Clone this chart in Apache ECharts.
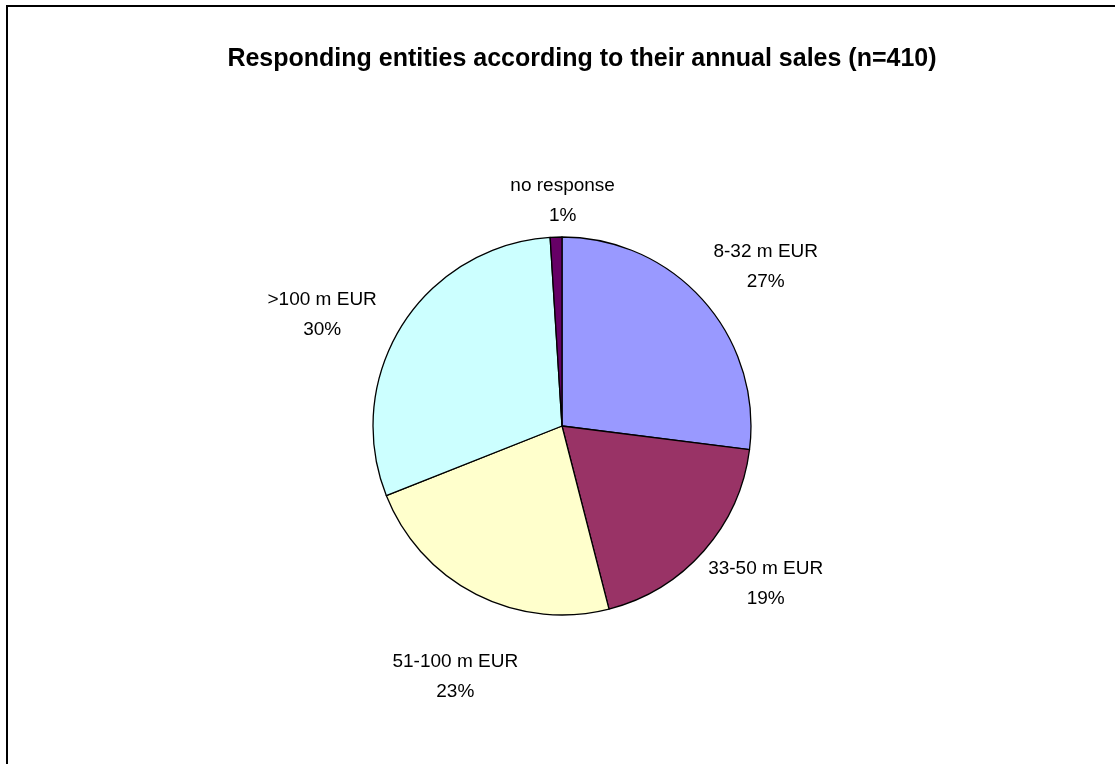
<!DOCTYPE html>
<html>
<head>
<meta charset="utf-8">
<script src="https://cdn.jsdelivr.net/npm/echarts@6/dist/echarts.min.js"></script>
<style>
  html, body { margin: 0; padding: 0; background: #fff; }
  #chart { width: 1115px; height: 764px; }
</style>
</head>
<body>
<div id="chart"></div>
<script>
// Sales bands and their share of responding entities (percent)
const categories = ['8-32 m EUR', '33-50 m EUR', '51-100 m EUR', '>100 m EUR', 'no response'];
const shares = [27, 19, 23, 30, 1];
const sliceColors = ['#9999FF', '#993366', '#FFFFCC', '#CCFFFF', '#660066'];

const titleText = 'Responding entities according to their annual sales (n=410)';

const pieCenter = [562, 426];
const pieRadius = 189;
const labelGap = 25;
// small hand adjustments of the label boxes, in pixels
const labelNudge = [[4, 0], [0, -1], [19, 37], [-13, 17], [9, 15]];

const total = shares.reduce((a, b) => a + b, 0);
// mid-angle of each slice, measured clockwise from 12 o'clock
const midAngles = [];
let acc = 0;
shares.forEach(v => {
  midAngles.push((acc + v / 2) / total * 2 * Math.PI);
  acc += v;
});

const chart = echarts.init(document.getElementById('chart'), null, { renderer: 'canvas' });

chart.setOption({
  animation: false,
  backgroundColor: '#ffffff',
  title: {
    text: titleText,
    left: 577,
    textAlign: 'center',
    top: 42,
    textStyle: {
      fontFamily: 'Liberation Sans, Arial, sans-serif',
      fontWeight: 'bold',
      fontSize: 25,
      color: '#000'
    }
  },
  graphic: [{
    type: 'rect',
    shape: { x: 7, y: 6, width: 1300, height: 1000 },
    style: { fill: 'none', stroke: '#000', lineWidth: 2 },
    silent: true
  }],
  series: [{
    type: 'pie',
    center: pieCenter,
    radius: pieRadius,
    startAngle: 90,
    clockwise: true,
    silent: true,
    itemStyle: { borderColor: '#000', borderWidth: 1.3 },
    label: {
      show: true,
      position: 'outside',
      formatter: '{b}\n{c}%',
      fontFamily: 'Liberation Sans, Arial, sans-serif',
      fontSize: 19,
      lineHeight: 30,
      color: '#000',
      align: 'center'
    },
    labelLine: { show: false },
    labelLayout: function (p) {
      const i = p.dataIndex;
      const a = midAngles[i];
      const dx = Math.sin(a), dy = -Math.cos(a);
      const w = p.labelRect.width, h = p.labelRect.height * 0.87;
      const r = pieRadius + labelGap;
      return {
        x: pieCenter[0] + r * dx + dx * w / 2 + labelNudge[i][0],
        y: pieCenter[1] + r * dy + dy * h / 2 + labelNudge[i][1],
        align: 'center',
        verticalAlign: 'middle'
      };
    },
    data: categories.map((name, i) => ({
      name: name,
      value: shares[i],
      itemStyle: { color: sliceColors[i] }
    }))
  }]
});
</script>
</body>
</html>
